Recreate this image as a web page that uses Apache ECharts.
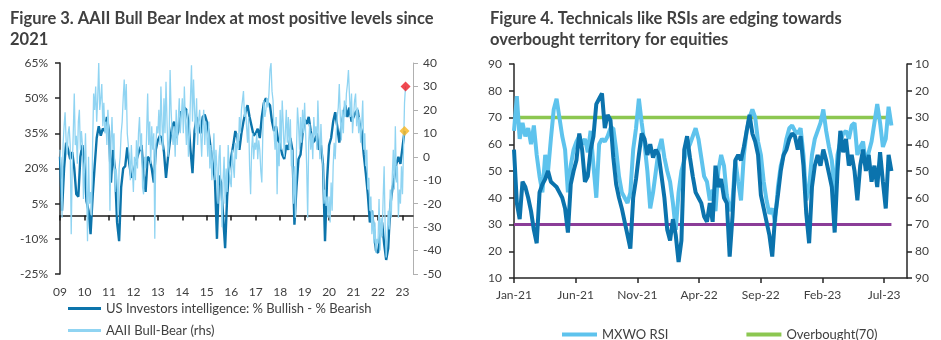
<!DOCTYPE html>
<html><head><meta charset="utf-8">
<script src="https://cdn.jsdelivr.net/npm/echarts@6/dist/echarts.min.js"></script>
<style>html,body{margin:0;padding:0;background:#fff}#c{width:941px;height:340px}</style>
</head><body><div id="c"></div>
<script>
// ---------- Figure 3 data ----------
const yearTicks = [2009,2010,2011,2012,2013,2014,2015,2016,2017,2018,2019,2020,2021,2022,2023];
const yearLabels = ['09','10','11','12','13','14','15','16','17','18','19','20','21','22','23'];
// US Investors Intelligence bull-bear (%), monthly from Jan 2009
const iiBullBear = [
  25, 2, 20, 31, 28, 24, 27, 20, 9, 8, 25, 30,
  22, 6, 2, -8, 8, 21, 33, 38, 34, 37, 36, 42,
  36, 14, 28, 19, -3, -11, 12, 20, 21, 29, 22, 16,
  18, 22, 25, 28, 30, 18, 10, 25, 24, 20, 14, 28,
  32, 34, 33, 27, 16, 25, 32, 38, 40, 33, 36, 44,
  44, 46, 45, 40, 28, 18, 36, 42, 38, 35, 42, 43,
  40, 35, 28, 22, 15, -10, 17, 14, 0, -14, 8, 20,
  25, 30, 36, 33, 28, 35, 40, 44, 47, 42, 38, 34,
  35, 37, 33, 42, 48, 50, 48, 47, 40, 36, 38, 32,
  30, 26, 24, 30, 28, 33, 28, -4, 12, 24, 26, 35,
  41, 39, 42, 36, 31, 32, 35, 28, 30, 22, -11, 15,
  30, 33, 40, 44, 38, 31, 38, 43, 47, 42, 46, 40,
  42, 44, 45, 39, 36, 26, 18, 9, -3, 2, -6, -15,
  -16, -9, -3, -12, -19, -14, 4, 11, 16, 22, 25, 22,
  29, 36
];
// AAII bull-bear (rhs), twice a month from Jan 2009
const aaiiBullBear = [
  3, -5, -26, 5, 13, 19, 7, 1, 10, 13, 5, -33, -5, 10, 27, 5, 9, -3, 15, 20, 3, 11, 5, -18,
  -5, 10, -10, -36, 0, -20, -15, -25, 5, 27, 20, 30, 15, 25, 40, 20, 25, 31, 13, 23, 10, 15, 5, 20,
  10, -23, 5, 17, 3, 10, -15, -5, -10, -25, -5, 0, 10, 15, 25, 33, 20, 31, 10, 5, 0, -10, 5, -5,
  -15, 0, -10, 7, -5, 10, 17, 3, 10, -13, -16, 0, -5, 10, 27, 5, 15, -3, 13, 3, 10, -35, 5, 13,
  10, 20, 5, 30, 15, 3, 25, 10, 32, 15, 0, 5, 37, 20, 10, 5, 13, 0, 20, 5, 15, 25, 10, 17,
  25, 10, 30, 15, 5, 20, 0, 10, 25, 39, 15, 33, 20, 10, 25, 5, 15, 20, 10, 0, 13, 20, 5, 15,
  10, 0, 15, -5, 5, -10, 0, 10, -10, 3, -5, -20, 0, 5, -15, -30, -10, 0, -20, -5, -15, 5, -5, -10,
  -13, 3, -4, -9, 6, -1, 10, 3, 17, 10, 20, 24, 28, 17, 21, 13, 6, 17, -4, -16, 3, 10, -1, 6,
  3, 10, -1, 7, 3, -6, -11, 10, 24, 17, 20, 25, 21, 27, 37, 40, 28, 24, 10, 3, 17, -16, 6, -4,
  20, 3, 24, 14, 0, 10, 20, 6, 17, 3, 16, -4, 3, -20, -4, -26, 3, 21, 14, 3, 17, 6, 20, 10,
  23, 10, -4, -26, 6, 14, 3, 10, -1, 17, 9, 13, 3, 24, 10, -1, 14, 3, -4, -20, -14, -21, -17, -26,
  -17, -28, -11, -23, -4, 6, -1, 10, 17, 21, 31, 17, 7, 20, 10, 24, 17, 27, 31, 37, 26, 17, 27, 10,
  17, 24, 27, 13, 21, 10, 17, 6, 14, 24, 3, 10, -4, 3, -14, -9, -23, -17, -33, -23, -37, -28, -41, -35,
  -37, -18, -40, -26, -34, -18, -4, -30, -43, -34, -23, -31, -14, -26, -8, 3, -14, 13, -11, -4, -26, -14, -20, -4,
  -16, 3, 23, 30
];

// ---------- Figure 4 data ----------
const rsiMonthTicks = [0, 5, 10, 15, 20, 25, 30];
const rsiMonthLabels = ['Jan-21','Jun-21','Nov-21','Apr-22','Sep-22','Feb-23','Jul-23'];
// weekly from Jan 2021
const mxwoRsi = [
  65, 78, 62, 68, 63, 66, 60, 67, 56, 48, 42, 56, 50, 62, 73, 77, 70, 63, 58, 42,
  52, 58, 61, 63, 60, 62, 57, 65, 52, 40, 60, 62, 61, 63, 66,
  66, 58, 48, 42, 40, 38, 42, 58, 66, 77, 68, 60, 50, 36, 42, 50, 58, 62, 55, 50,
  46, 38, 28, 42, 50, 54, 58, 60, 63, 66, 62, 55, 48,
  46, 39, 43, 35, 50, 56, 52, 41, 35, 39, 54, 46, 39, 56, 65, 70, 73, 70, 61, 56,
  46, 39, 34, 36, 31, 44, 52, 56, 62, 66, 67, 65, 64, 66, 56, 39, 44, 56, 62, 65,
  68, 73, 65, 59, 54, 41, 56, 61, 64, 65, 62, 67, 68, 56, 59, 61, 52, 57, 61, 68,
  75, 68, 59, 62, 74, 67
];
const otherRsi = [
  58, 38, 32, 46, 44, 40, 35, 28, 23, 42, 45, 47, 50, 46, 45, 44, 42, 40, 36, 27,
  45, 50, 54, 64, 58, 46, 48, 58, 63, 75, 77, 79, 66, 71, 69,
  55, 45, 40, 36, 31, 26, 21, 40, 47, 56, 64, 62, 56, 60, 55, 58, 56, 48, 40, 28,
  24, 32, 26, 16, 24, 58, 63, 55, 48, 42, 40, 38, 33,
  31, 38, 31, 52, 44, 47, 40, 38, 18, 33, 54, 56, 54, 59, 65, 71, 64, 61, 56, 41,
  36, 31, 26, 18, 33, 41, 50, 56, 58, 62, 64, 63, 58, 63, 52, 34, 23, 44, 52, 56,
  52, 58, 54, 49, 44, 27, 50, 65, 57, 62, 52, 56, 50, 39, 52, 58, 50, 56, 46, 52,
  44, 57, 46, 36, 56, 50
];
const overboughtLevel = 70;
const oversoldLevel = 30;

// ---------- build ----------
const iiData = iiBullBear.map((v, i) => [2009 + i / 12, v]);
const aaiiData = aaiiBullBear.map((v, i) => [2009 + i / 24, v]);
const WEEK = 12 / 52.1775;
const mxwoData = mxwoRsi.map((v, i) => [i * WEEK, v]);
const otherData = otherRsi.map((v, i) => [i * WEEK, v]);
const lastX = (mxwoRsi.length - 1) * WEEK;

const FONT = 'Lato';
const TXT = '#404040';
const lbl = { color: TXT, fontFamily: FONT, fontSize: 12 };

const chart = echarts.init(document.getElementById('c'), null, { renderer: 'canvas' });
chart.setOption({
  animation: false,
  backgroundColor: '#fff',
  title: [
    { text: 'Figure 3. AAII Bull Bear Index at most positive levels since\n2021', left: 5, top: 3,
      textStyle: { fontFamily: FONT, fontWeight: 'bold', fontSize: 16.5, color: TXT, lineHeight: 21 } },
    { text: 'Figure 4. Technicals like RSIs are edging towards\noverbought territory for equities', left: 485, top: 3,
      textStyle: { fontFamily: FONT, fontWeight: 'bold', fontSize: 16.5, color: TXT, lineHeight: 21 } }
  ],
  legend: [
    { orient: 'vertical', left: 68, top: 302, padding: 0, height: 50, itemWidth: 33, itemHeight: 3, itemGap: 9, icon: 'rect',
      data: ['US Investors intelligence: % Bullish - % Bearish', 'AAII Bull-Bear (rhs)'],
      textStyle: { color: TXT, fontFamily: FONT, fontSize: 13 } },
    { orient: 'horizontal', left: 562, top: 328, padding: 0, itemWidth: 35, itemHeight: 4, itemGap: 78, icon: 'rect',
      data: ['MXWO RSI', 'Overbought(70)'],
      textStyle: { color: TXT, fontFamily: FONT, fontSize: 13 } }
  ],
  grid: [
    { left: 60, top: 63, width: 353, height: 211 },
    { left: 514, top: 64, width: 393, height: 214 }
  ],
  xAxis: [
    { gridIndex: 0, type: 'value', min: 2009, max: 2023.43, position: 'bottom',
      axisLine: { show: false, onZero: false }, axisTick: { show: false }, splitLine: { show: false },
      axisLabel: Object.assign({ margin: 12, customValues: yearTicks,
        formatter: v => yearLabels[yearTicks.indexOf(Math.round(v))] || '' }, lbl) },
    { gridIndex: 0, type: 'value', min: 2009, max: 2023.43, position: 'bottom',
      axisLine: { show: true, onZero: true, onZeroAxisIndex: 0, lineStyle: { color: '#1a1a1a', width: 1.5 } },
      axisTick: { show: true, length: 5, customValues: yearTicks, lineStyle: { color: '#1a1a1a', width: 1.5 } },
      axisLabel: { show: false }, splitLine: { show: false } },
    { gridIndex: 1, type: 'value', min: 0, max: 31.85, position: 'bottom',
      axisLine: { show: true, onZero: false, lineStyle: { color: '#262626', width: 1.5 } },
      axisTick: { show: true, length: 5, customValues: rsiMonthTicks, lineStyle: { color: '#262626', width: 1.5 } },
      axisLabel: Object.assign({ margin: 11, customValues: rsiMonthTicks,
        formatter: v => rsiMonthLabels[rsiMonthTicks.indexOf(Math.round(v))] || '' }, lbl),
      splitLine: { show: false } }
  ],
  yAxis: [
    { gridIndex: 0, type: 'value', position: 'left', min: -25, max: 65, interval: 15,
      axisLine: { show: true, lineStyle: { color: '#262626', width: 1.5 } },
      axisTick: { show: true, length: 5, lineStyle: { color: '#262626', width: 1.5 } },
      axisLabel: Object.assign({ margin: 12, formatter: '{value}%' }, lbl), splitLine: { show: false } },
    { gridIndex: 0, type: 'value', position: 'right', min: -50, max: 40, interval: 10,
      axisLine: { show: true, lineStyle: { color: '#b0b0b0', width: 1 } },
      axisTick: { show: true, length: 5, lineStyle: { color: '#b0b0b0' } },
      axisLabel: Object.assign({ margin: 10 }, lbl), splitLine: { show: false } },
    { gridIndex: 1, type: 'value', position: 'left', min: 10, max: 90, interval: 10,
      axisLine: { show: true, lineStyle: { color: '#262626', width: 1.5 } },
      axisTick: { show: true, length: 5, lineStyle: { color: '#262626', width: 1.5 } },
      axisLabel: Object.assign({ margin: 12 }, lbl), splitLine: { show: false } },
    { gridIndex: 1, type: 'value', position: 'right', min: 10, max: 90, interval: 10, inverse: true,
      axisLine: { show: true, lineStyle: { color: '#262626', width: 1.5 } },
      axisTick: { show: true, length: 5, lineStyle: { color: '#262626', width: 1.5 } },
      axisLabel: Object.assign({ margin: 8 }, lbl), splitLine: { show: false } }
  ],
  series: [
    { name: 'US Investors intelligence: % Bullish - % Bearish', type: 'line', xAxisIndex: 1, yAxisIndex: 0,
      data: iiData, symbol: 'none', lineStyle: { color: '#0c74ab', width: 2.4 }, itemStyle: { color: '#0c74ab' } },
    { name: 'AAII Bull-Bear (rhs)', type: 'line', xAxisIndex: 1, yAxisIndex: 1,
      data: aaiiData, symbol: 'none', lineStyle: { color: '#90d4f2', width: 1.3 }, itemStyle: { color: '#90d4f2' } },
    { name: 'II latest', type: 'scatter', xAxisIndex: 1, yAxisIndex: 0, symbol: 'diamond', symbolSize: 10,
      data: [iiData[iiData.length - 1]], itemStyle: { color: '#f7b51e' }, z: 5 },
    { name: 'AAII latest', type: 'scatter', xAxisIndex: 1, yAxisIndex: 1, symbol: 'diamond', symbolSize: 10,
      data: [aaiiData[aaiiData.length - 1]], itemStyle: { color: '#ec1c24' }, z: 5 },

    { name: 'Overbought(70)', type: 'line', xAxisIndex: 2, yAxisIndex: 2, symbol: 'none',
      data: [[0, overboughtLevel], [lastX, overboughtLevel]], lineStyle: { color: '#8cc751', width: 3.5 }, itemStyle: { color: '#8cc751' } },
    { name: 'Oversold(30)', type: 'line', xAxisIndex: 2, yAxisIndex: 2, symbol: 'none',
      data: [[0, oversoldLevel], [lastX, oversoldLevel]], lineStyle: { color: '#8b3d98', width: 3 }, itemStyle: { color: '#8b3d98' } },
    { name: 'MXWO RSI', type: 'line', xAxisIndex: 2, yAxisIndex: 2, symbol: 'none',
      data: mxwoData, lineStyle: { color: '#5ec3ed', width: 4 }, itemStyle: { color: '#5ec3ed' } },
    { name: 'RSI 2', type: 'line', xAxisIndex: 2, yAxisIndex: 2, symbol: 'none',
      data: otherData, lineStyle: { color: '#0b73ad', width: 4 }, itemStyle: { color: '#0b73ad' } }
  ]
});
</script></body></html>
